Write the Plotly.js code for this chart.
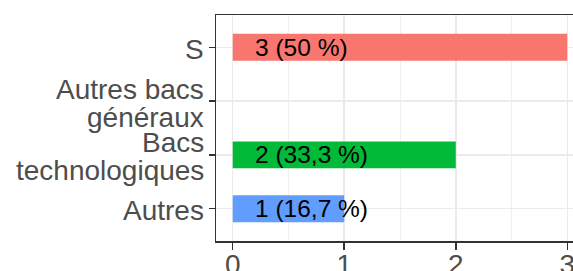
<!DOCTYPE html>
<html>
<head>
<meta charset="utf-8">
<script src="https://cdn.plot.ly/plotly-3.0.1.min.js"></script>
<style>
html, body { margin: 0; padding: 0; overflow: hidden; background: #fff; }
#chart { width: 600px; height: 271px; }
</style>
</head>
<body>
<div id="chart"></div>
<script>
// Data
const categories = ["S", "Autres bacs<br>généraux", "Bacs<br>technologiques", "Autres"];
const counts = [3, 0, 2, 1];
const barColors = ["#F8766D", "#B79F00", "#00BA38", "#619CFF"];
const xTickVals = [0, 1, 2, 3];
const xTickText = ["0", "1", "2", "3"];

const total = counts.reduce((a, b) => a + b, 0);
const labelText = counts.map(v => {
  const p = Math.round(v / total * 1000) / 10;
  return v + " (" + String(p).replace(".", ",") + " %)";
});

const LABEL_X = 0.2;
const AXIS_FONT = 28;
const LINE_GAP = 28;

const traces = [{
  type: "bar",
  orientation: "h",
  x: counts,
  y: categories,
  width: 0.5,
  marker: { color: barColors, line: { width: 0 } },
  hoverinfo: "none",
  showlegend: false
}];

const annotations = [];
// bar value labels
categories.forEach((c, i) => {
  if (counts[i] > 0) {
    annotations.push({
      x: LABEL_X, y: c, xref: "x", yref: "y",
      text: labelText[i], showarrow: false,
      xanchor: "left", yanchor: "middle",
      xshift: -2,
      font: { family: "Liberation Sans, Arial, sans-serif", size: 24.5, color: "#000" }
    });
  }
});
// y category labels (tight line spacing like the original)
categories.forEach((c) => {
  const lines = c.split("<br>");
  const n = lines.length;
  lines.forEach((ln, j) => {
    annotations.push({
      x: 0, y: c, xref: "paper", yref: "y",
      text: ln, showarrow: false,
      xanchor: "right", yanchor: "middle",
      xshift: -10, yshift: ((n - 1) / 2 - j) * LINE_GAP - 2,
      font: { family: "Liberation Sans, Arial, sans-serif", size: AXIS_FONT, color: "#4D4D4D" }
    });
  });
});

const layout = {
  width: 600, height: 271,
  margin: { l: 216, r: 16, t: 15, b: 30, pad: 0 },
  paper_bgcolor: "#fff",
  plot_bgcolor: "#fff",
  bargap: 0.5,
  font: { family: "Liberation Sans, Arial, sans-serif", color: "#4D4D4D" },
  xaxis: {
    range: [-0.15, 3.15],
    tickvals: xTickVals, ticktext: xTickText,
    ticks: "outside", ticklen: 7, tickwidth: 1.5, tickcolor: "#333",
    ticklabelstandoff: -9,
    showgrid: true, gridcolor: "#EBEBEB", gridwidth: 1.5,
    minor: { dtick: 0.5, showgrid: true, gridcolor: "#EBEBEB", gridwidth: 0.8, ticks: "" },
    showline: true, linecolor: "#333", linewidth: 1.5, mirror: true,
    zeroline: false,
    tickfont: { size: AXIS_FONT, color: "#4D4D4D" },
    fixedrange: true
  },
  yaxis: {
    type: "category",
    categoryorder: "array", categoryarray: categories,
    range: [3.6, -0.6],
    ticks: "outside", ticklen: 6, tickwidth: 1.5, tickcolor: "#333",
    showticklabels: false,
    showgrid: true, gridcolor: "#EBEBEB", gridwidth: 1.5,
    showline: true, linecolor: "#333", linewidth: 1.5, mirror: true,
    zeroline: false,
    fixedrange: true
  },
  annotations: annotations
};

Plotly.newPlot("chart", traces, layout, { displayModeBar: false, staticPlot: true });
</script>
</body>
</html>
